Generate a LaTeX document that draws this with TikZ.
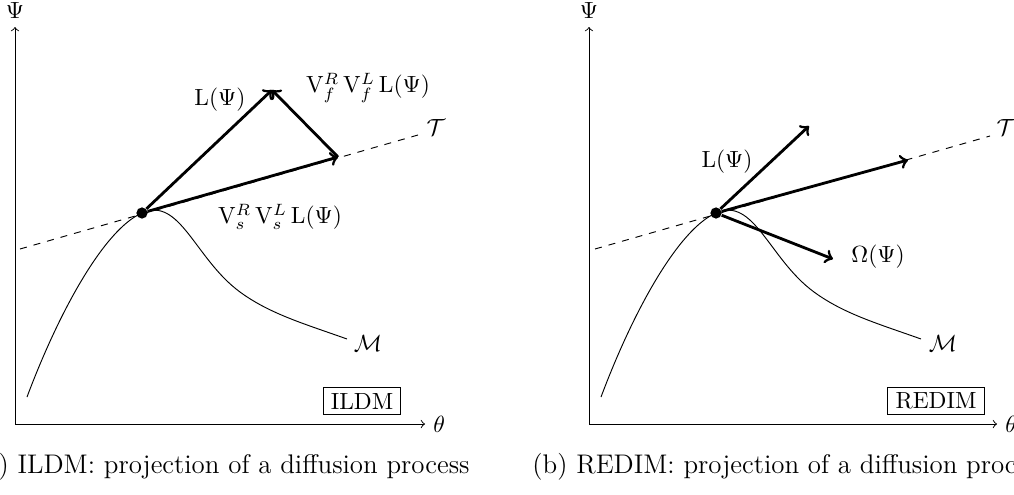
\documentclass[tikz,border=0pt]{standalone}
\usepackage{amsmath,amssymb}

\begin{document}
\begin{tikzpicture}[x=0.4274pt,y=0.4274pt,
  axis/.style={->,thin},
  vec/.style={->,very thick},
  tang/.style={dashed,thin},
  dot/.style={circle,fill,inner sep=0pt,minimum size=4.8pt},
  tag/.style={draw,thin,inner xsep=3.3pt,inner ysep=2.4pt},
  captxt/.style={inner sep=0pt,font=\fontsize{11.5}{14}\selectfont}]
  \useasboundingbox (-15,-70) rectangle (999,424);
  % (a) ILDM
  \begin{scope}
    \coordinate (oa) at (0,0);
    \coordinate (ya) at (0,397);
    \coordinate (xa) at (410,0);
    \draw[axis] (oa) -- (ya);
    \draw[axis] (oa) -- (xa);
    \node[above] (psia) at (ya) {$\Psi$};
    \node[right] (tha) at (xa) {$\theta$};
    \coordinate (ta0) at (5,175);
    \coordinate (ta1) at (403,289);
    \draw[tang] (ta0) -- (ta1);
    \node (tla) at (421,297) {$\mathcal{T}$};
    \draw (12,27) .. controls (45,115) and (90,195) .. (127,211)
      .. controls (165,228) and (180,165) .. (225,132)
      .. controls (255,110) and (290,100) .. (332,85);
    \node (mla) at (353,81) {$\mathcal{M}$};
    \node[dot] (pa) at (127,211) {};
    \coordinate (la) at (257,334);
    \coordinate (sa) at (323,267);
    \draw[vec] (pa) -- (la);
    \draw[vec] (pa) -- (sa);
    \draw[vec] (sa) -- (la);
    \node (lla) at (205,324) {$\mathrm{L}(\Psi)$};
    \node (fla) at (353,336) {$\mathrm{V}^R_f\,\mathrm{V}^L_f\,\mathrm{L}(\Psi)$};
    \node (sla) at (265,207) {$\mathrm{V}^R_s\,\mathrm{V}^L_s\,\mathrm{L}(\Psi)$};
    \node[tag] (ildm) at (347,23) {ILDM};
    \node[captxt,anchor=base east] (capa) at (455,-49) {(a) ILDM: projection of a diffusion process};
  \end{scope}
  % (b) REDIM
  \begin{scope}[shift={(574,0)}]
    \coordinate (ob) at (0,0);
    \coordinate (yb) at (0,397);
    \coordinate (xb) at (408,0);
    \draw[axis] (ob) -- (yb);
    \draw[axis] (ob) -- (xb);
    \node[above] (psib) at (yb) {$\Psi$};
    \node[right] (thb) at (xb) {$\theta$};
    \coordinate (tb0) at (6,175);
    \coordinate (tb1) at (401,288);
    \draw[tang] (tb0) -- (tb1);
    \node (tlb) at (417,297) {$\mathcal{T}$};
    \draw (12,27) .. controls (45,115) and (90,195) .. (127,211)
      .. controls (165,228) and (180,165) .. (225,132)
      .. controls (255,110) and (290,100) .. (332,85);
    \node (mlb) at (354,81) {$\mathcal{M}$};
    \node[dot] (pb) at (127,211) {};
    \coordinate (lb) at (220,298);
    \coordinate (sb) at (319,264);
    \coordinate (wb) at (244,165);
    \draw[vec] (pb) -- (lb);
    \draw[vec] (pb) -- (sb);
    \draw[vec] (pb) -- (wb);
    \node (llb) at (138,262) {$\mathrm{L}(\Psi)$};
    \node (wlb) at (289,167) {$\Omega(\Psi)$};
    \node[tag] (redim) at (347,23) {REDIM};
    \node[captxt,anchor=base west] (capb) at (-57,-49) {(b) REDIM: projection of a diffusion process};
  \end{scope}
\end{tikzpicture}
\end{document}
